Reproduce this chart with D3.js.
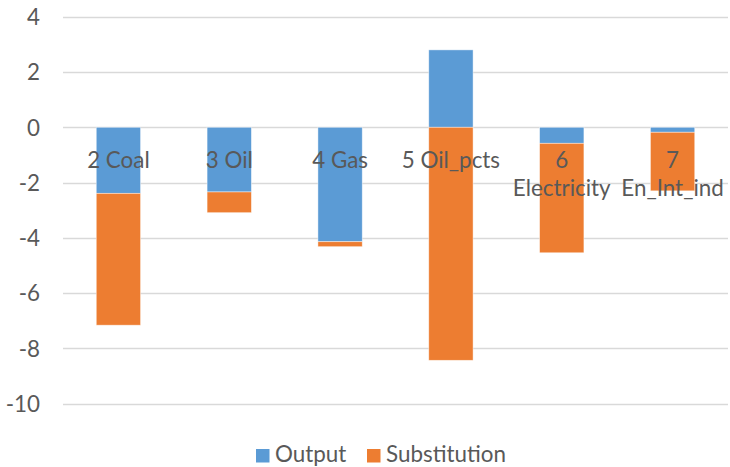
<!DOCTYPE html>
<html>
<head>
<meta charset="utf-8">
<script src="https://cdn.jsdelivr.net/npm/d3@7"></script>
<style>
  html, body { margin: 0; padding: 0; background: #fff; }
  svg text { font-family: Lato, "Open Sans", sans-serif; fill: #595959; }
</style>
</head>
<body>
<svg id="chart" width="730" height="467"></svg>
<script>
// Sector labels; a "|" marks where a long label breaks onto a second line
const categories = ["2 Coal", "3 Oil", "4 Gas", "5 Oil_pcts", "6|Electricity", "7|En_Int_ind"];
const outputValues = [-2.39, -2.34, -4.14, 2.80, -0.58, -0.18];
const substitutionValues = [-4.77, -0.75, -0.18, -8.43, -3.96, -2.12];
const seriesNames = ["Output", "Substitution"];
const seriesColors = ["#5B9BD5", "#ED7D31"];
const yTicks = [4, 2, 0, -2, -4, -6, -8, -10];

const FONT = 22.4;
const svg = d3.select("#chart");
const plot = { left: 63, right: 728, top: 16.7, bottom: 403.7 };

const x = d3.scaleBand()
  .domain(categories)
  .range([plot.left, plot.right])
  .paddingInner(0.6)
  .paddingOuter(0.3);

const y = d3.scaleLinear().domain([-10, 4]).range([plot.bottom, plot.top]);

// Horizontal gridlines
svg.append("g")
  .selectAll("line")
  .data(yTicks)
  .join("line")
  .attr("x1", plot.left)
  .attr("x2", plot.right)
  .attr("y1", d => Math.round(y(d)) + 0.5)
  .attr("y2", d => Math.round(y(d)) + 0.5)
  .attr("stroke", "#D9D9D9")
  .attr("stroke-width", 1.3);

// Y axis tick labels
const yAxis = d3.axisLeft(y).tickValues(yTicks).tickSize(0).tickPadding(0)
  .tickFormat(d => String(d));
const yg = svg.append("g").attr("transform", "translate(40,0)").call(yAxis);
yg.select(".domain").remove();
yg.selectAll("text")
  .attr("font-size", FONT)
  .attr("font-family", "Lato, \"Open Sans\", sans-serif")
  .attr("fill", "#595959")
  .attr("dy", "0.35em");

// Stack positives upward and negatives downward from zero
const rows = categories.map((c, i) => ({ cat: c, vals: [outputValues[i], substitutionValues[i]] }));
const segments = [];
rows.forEach(r => {
  let pos = 0, neg = 0;
  r.vals.forEach((v, s) => {
    let y0, y1;
    if (v >= 0) { y0 = pos; y1 = pos + v; pos = y1; }
    else { y0 = neg; y1 = neg + v; neg = y1; }
    segments.push({ cat: r.cat, s, y0, y1 });
  });
});

svg.append("g")
  .selectAll("rect")
  .data(segments)
  .join("rect")
  .attr("x", d => x(d.cat))
  .attr("width", x.bandwidth())
  .attr("y", d => y(Math.max(d.y0, d.y1)))
  .attr("height", d => Math.abs(y(d.y0) - y(d.y1)))
  .attr("fill", d => seriesColors[d.s])
  .attr("stroke", "#ffffff")
  .attr("stroke-opacity", 0.6)
  .attr("stroke-width", 0.75);

// Category labels drawn just under the zero line
const labels = svg.append("g")
  .selectAll("text")
  .data(categories)
  .join("text")
  .attr("text-anchor", "middle")
  .attr("font-size", FONT)
  .attr("x", d => x(d) + x.bandwidth() / 2)
  .attr("y", 167.5);
labels.each(function (d) {
  const parts = d.split("|");
  const t = d3.select(this);
  parts.forEach((p, i) => {
    t.append("tspan")
      .attr("x", x(d) + x.bandwidth() / 2)
      .attr("dy", i === 0 ? 0 : 28.5)
      .text(p);
  });
});

// Legend
const legendItems = [
  { name: seriesNames[0], color: seriesColors[0], x: 256 },
  { name: seriesNames[1], color: seriesColors[1], x: 367 }
];
const lg = svg.append("g");
legendItems.forEach(it => {
  lg.append("rect")
    .attr("x", it.x).attr("y", 449)
    .attr("width", 13.5).attr("height", 13.5)
    .attr("fill", it.color);
  lg.append("text")
    .attr("x", it.x + 19).attr("y", 462)
    .attr("font-size", FONT)
    .text(it.name);
});
</script>
</body>
</html>
